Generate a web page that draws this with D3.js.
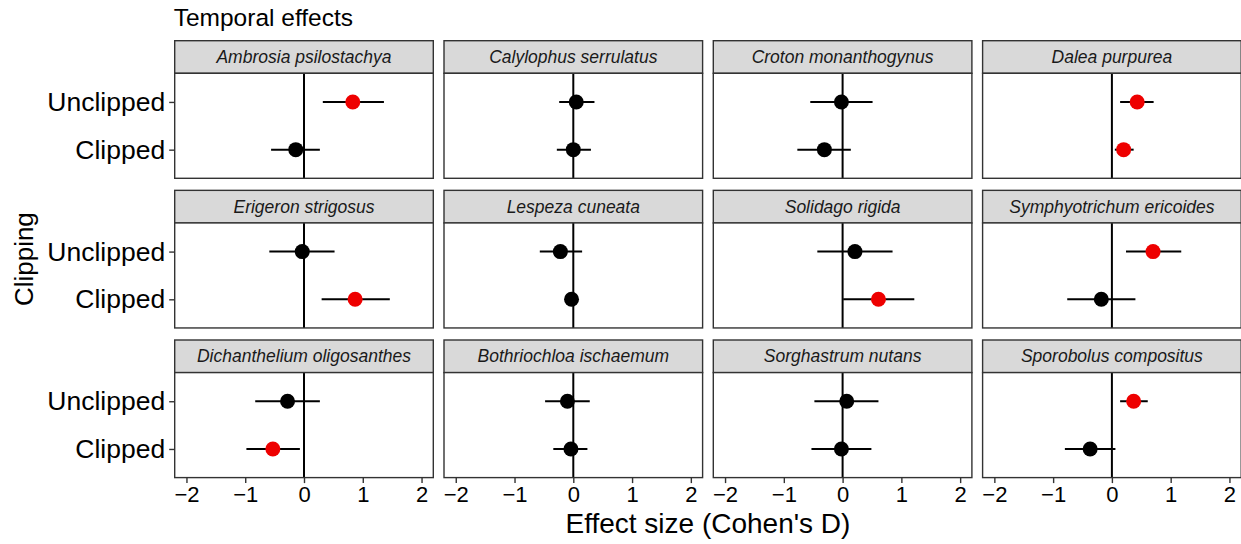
<!DOCTYPE html>
<html>
<head>
<meta charset="utf-8">
<script src="https://cdn.jsdelivr.net/npm/d3@7"></script>
<style>
  body { margin: 0; background: #fff; }
  svg { display: block; font-family: "Liberation Sans", Arial, sans-serif; }
</style>
</head>
<body>
<svg id="chart" width="1241" height="544"></svg>
<script>
const species = [
  "Ambrosia psilostachya", "Calylophus serrulatus", "Croton monanthogynus", "Dalea purpurea",
  "Erigeron strigosus", "Lespeza cuneata", "Solidago rigida", "Symphyotrichum ericoides",
  "Dichanthelium oligosanthes", "Bothriochloa ischaemum", "Sorghastrum nutans", "Sporobolus compositus"
];
const levels = ["Unclipped", "Clipped"];

// effect sizes and 95% interval ends, per species
const unclippedD    = [0.83, 0.05, -0.02, 0.43, -0.03, -0.22, 0.21, 0.70, -0.28, -0.10, 0.07, 0.37];
const unclippedLow  = [0.32, -0.24, -0.55, 0.14, -0.59, -0.57, -0.43, 0.24, -0.83, -0.48, -0.48, 0.14];
const unclippedHigh = [1.36, 0.36, 0.51, 0.71, 0.52, 0.15, 0.85, 1.18, 0.27, 0.28, 0.61, 0.61];
const unclippedSig  = [true, false, false, true, false, false, false, true, false, false, false, true];

const clippedD    = [-0.14, 0.00, -0.31, 0.20, 0.87, -0.03, 0.61, -0.18, -0.53, -0.04, -0.02, -0.37];
const clippedLow  = [-0.56, -0.28, -0.77, 0.05, 0.30, -0.06, 0.01, -0.76, -0.98, -0.34, -0.53, -0.80];
const clippedHigh = [0.27, 0.30, 0.14, 0.37, 1.46, 0.01, 1.22, 0.40, -0.07, 0.24, 0.49, 0.06];
const clippedSig  = [false, false, false, true, true, false, true, false, true, false, false, false];

const xTicks = [-2, -1, 0, 1, 2];

const rows = species.map((name, i) => [
  { species: name, level: "Unclipped", d: unclippedD[i], lo: unclippedLow[i], hi: unclippedHigh[i], sig: unclippedSig[i] },
  { species: name, level: "Clipped", d: clippedD[i], lo: clippedLow[i], hi: clippedHigh[i], sig: clippedSig[i] }
]);

const svg = d3.select("#chart");

const nCol = 4;
const gridLeft = 174.7, gridTop = 40.7;
const panelW = 258.6, colStep = 269.3;
const stripH = 32.6, bodyH = 105, rowStep = 149.65;
const border = "#333333";

const x = d3.scaleLinear().domain([-2.2, 2.2]).range([0, panelW]);
const y = d3.scalePoint().domain(levels).range([0, bodyH]).padding(0.6);

svg.append("text")
  .attr("x", gridLeft - 1)
  .attr("y", 26)
  .attr("font-size", 24.5)
  .attr("fill", "#000")
  .text("Temporal effects");

species.forEach((name, i) => {
  const col = i % nCol;
  const row = Math.floor(i / nCol);
  const px = gridLeft + col * colStep;
  const py = gridTop + row * rowStep;

  const g = svg.append("g").attr("transform", `translate(${px},${py})`);

  // strip
  g.append("rect")
    .attr("width", panelW).attr("height", stripH)
    .attr("fill", "#d9d9d9").attr("stroke", border).attr("stroke-width", 1.4);
  g.append("text")
    .attr("x", panelW / 2).attr("y", stripH / 2)
    .attr("dy", "0.35em")
    .attr("text-anchor", "middle")
    .attr("font-size", 17.5)
    .attr("font-style", "italic")
    .attr("fill", "#1a1a1a")
    .text(name);

  const body = g.append("g").attr("transform", `translate(0,${stripH})`);
  body.append("rect")
    .attr("width", panelW).attr("height", bodyH)
    .attr("fill", "#fff");

  body.append("line")
    .attr("x1", x(0)).attr("x2", x(0))
    .attr("y1", 0).attr("y2", bodyH)
    .attr("stroke", "#000").attr("stroke-width", 2);

  body.selectAll("line.ci")
    .data(rows[i])
    .join("line")
    .attr("class", "ci")
    .attr("x1", (d) => x(d.lo)).attr("x2", (d) => x(d.hi))
    .attr("y1", (d) => y(d.level)).attr("y2", (d) => y(d.level))
    .attr("stroke", "#000").attr("stroke-width", 2);

  body.selectAll("circle")
    .data(rows[i])
    .join("circle")
    .attr("cx", (d) => x(d.d)).attr("cy", (d) => y(d.level))
    .attr("r", 7.5)
    .attr("fill", (d) => (d.sig ? "#ee0000" : "#000"));

  body.append("rect")
    .attr("width", panelW).attr("height", bodyH)
    .attr("fill", "none").attr("stroke", border).attr("stroke-width", 1.4);

  // y axis on first column
  if (col === 0) {
    const yAxis = body.append("g").call(d3.axisLeft(y).tickSize(5.5).tickPadding(4));
    yAxis.select(".domain").remove();
    yAxis.selectAll(".tick line").attr("stroke", border).attr("stroke-width", 1.4);
    yAxis.selectAll(".tick text")
      .attr("font-size", 26.5)
      .attr("font-family", "Liberation Sans, Arial, sans-serif")
      .attr("fill", "#000");
  }

  // x axis on last row
  if (row === 2) {
    const xAxis = body.append("g")
      .attr("transform", `translate(0,${bodyH})`)
      .call(d3.axisBottom(x).tickValues(xTicks).tickSize(5.5).tickPadding(3).tickFormat(d3.format("d")));
    xAxis.select(".domain").remove();
    xAxis.selectAll(".tick line").attr("stroke", border).attr("stroke-width", 1.4);
    xAxis.selectAll(".tick text")
      .attr("font-size", 22)
      .attr("font-family", "Liberation Sans, Arial, sans-serif")
      .attr("fill", "#000");
  }
});

const gridRight = gridLeft + (nCol - 1) * colStep + panelW;
const gridBottom = gridTop + 2 * rowStep + stripH + bodyH;

svg.append("text")
  .attr("x", (gridLeft + gridRight) / 2)
  .attr("y", 533)
  .attr("text-anchor", "middle")
  .attr("font-size", 28)
  .attr("fill", "#000")
  .text("Effect size (Cohen's D)");

svg.append("text")
  .attr("transform", `translate(33,${(gridTop + gridBottom) / 2}) rotate(-90)`)
  .attr("text-anchor", "middle")
  .attr("font-size", 26)
  .attr("fill", "#000")
  .text("Clipping");
</script>
</body>
</html>
